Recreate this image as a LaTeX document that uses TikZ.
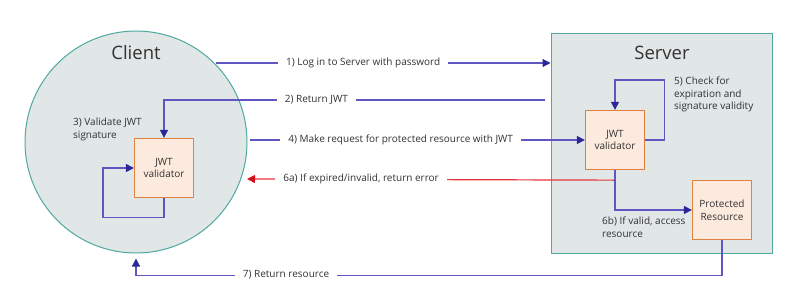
\documentclass[tikz,border=0pt]{standalone}
\usepackage{fontspec}
\setmainfont{Open Sans}
\usetikzlibrary{arrows.meta}

\definecolor{zonefill}{HTML}{E1E6E7}
\definecolor{zoneline}{HTML}{4FA9A2}
\definecolor{boxfill}{HTML}{FDEADE}
\definecolor{boxline}{HTML}{E2813F}
\definecolor{flowline}{HTML}{5F56C2}
\definecolor{flowtip}{HTML}{2B2796}
\definecolor{errline}{HTML}{E3343A}
\definecolor{errtip}{HTML}{D0101A}
\definecolor{txt}{HTML}{333333}

\begin{document}
\begin{tikzpicture}[x=1pt,y=-1pt,
	every node/.style={text=txt, font=\fontsize{10}{12.5}\selectfont},
	title/.style={font=\fontsize{18.5}{22}\selectfont},
	valbox/.style={draw=boxline, fill=boxfill, line width=1.3pt, minimum width=59pt, minimum height=59pt, align=center, inner sep=1pt},
	flow/.style={draw=flowline, line width=1.2pt, -{Triangle[length=8pt,width=8pt,color=flowtip]}},
	errflow/.style={draw=errline, line width=1.2pt, -{Triangle[length=8pt,width=8pt,color=errtip]}},
	lbl/.style={fill=white, inner xsep=8pt, inner ysep=1pt},
	note/.style={align=left, inner sep=0pt}]
	
	\useasboundingbox (0,0) rectangle (800,293);
	
	% client side
	\node[circle, draw=zoneline, fill=zonefill, line width=1pt, minimum size=222pt] (client) at (136,142) {};
	\node[title] (clienttitle) at (136,53) {Client};
	\node[valbox] (cval) at (164,168) {JWT\\validator};
	\node[note, anchor=north west] (sig) at (73,118) {3) Validate JWT\\signature};
	
	% server side
	\node[draw=zoneline, fill=zonefill, line width=1pt, minimum width=221pt, minimum height=220pt] (server) at (661.5,143) {};
	\node[title] (servertitle) at (662,53) {Server};
	\node[valbox] (sval) at (615,140) {JWT\\validator};
	\node[valbox] (res) at (722,210) {Protected\\Resource};
	\node[note, anchor=north west] (check) at (674,77) {5) Check for\\expiration and\\signature validity};
	\node[note, anchor=north west] (access) at (602,217) {6b) If valid, access\\resource};
	
	\coordinate (login) at (216,63);
	\coordinate (retjwt) at (545,100);
	\coordinate (req) at (250,140);
	\coordinate (errend) at (247,179);
	\path (sval.south) ++(0,10) coordinate (split);
	
	% messages
	\draw[flow] (login) -- (login -| server.west)
		node[lbl, pos=0.44] (m1) {1) Log in to Server with password};
	\draw[flow] (retjwt) -- (retjwt -| cval)
		node[lbl, pos=0.6] (m2) {2) Return JWT} -- (cval.north);
	\draw[flow] (cval.south) -- ++(0,19) -- ++(-61,0) |- (cval.west);
	\draw[flow] (req) -- (sval.west)
		node[lbl, pos=0.45] (m4) {4) Make request for protected resource with JWT};
	\draw[flow] (sval.east) -- ++(19,0) -- ++(0,-60) -| (sval.north);
	\draw[errflow] (split) -- (errend)
		node[lbl, pos=0.69] (m6a) {6a) If expired/invalid, return error};
	\draw[flow] (sval.south) |- (res.west);
	\draw[flow] (res.south) -- ++(0,35) -| ([yshift=-5pt]client.south)
		node[lbl, pos=0.372] (m7) {7) Return resource};
	
\end{tikzpicture}
\end{document}
